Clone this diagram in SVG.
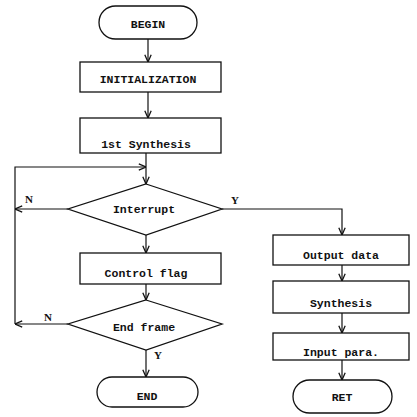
<svg xmlns="http://www.w3.org/2000/svg" width="417" height="417" viewBox="0 0 417 417">
<defs>
<marker id="arr" viewBox="0 0 10 10" refX="10" refY="5" markerWidth="8" markerHeight="8" markerUnits="userSpaceOnUse" orient="auto">
<path d="M1,1 L10,5 L1,9" fill="none" stroke="#111" stroke-width="1.6"/>
</marker>
<style>
.s{fill:#fff;stroke:#111;stroke-width:1.3}
.c{fill:none;stroke:#111;stroke-width:1.2}
.t{font-family:"Liberation Mono",monospace;font-weight:bold;font-size:11.5px;fill:#111;text-anchor:middle}
.l{font-family:"Liberation Serif",serif;font-weight:bold;font-size:11px;fill:#111;text-anchor:middle}
</style>
</defs>
<rect width="417" height="417" fill="#fff"/>
<g id="connectors">
<line class="c" x1="148" y1="39" x2="148" y2="62" marker-end="url(#arr)"/>
<line class="c" x1="148" y1="92" x2="148" y2="118" marker-end="url(#arr)"/>
<line class="c" x1="146" y1="153" x2="146" y2="184" marker-end="url(#arr)"/>
<polyline class="c" points="15,324 15,167 146,167" marker-end="url(#arr)"/>
<line class="c" x1="68" y1="209" x2="15" y2="209" marker-end="url(#arr)"/>
<line class="c" x1="146" y1="235" x2="146" y2="253" marker-end="url(#arr)"/>
<line class="c" x1="146" y1="284" x2="146" y2="300" marker-end="url(#arr)"/>
<line class="c" x1="68" y1="324" x2="15" y2="324" marker-end="url(#arr)"/>
<line class="c" x1="146" y1="350" x2="146" y2="377" marker-end="url(#arr)"/>
<polyline class="c" points="222,209 342,209 342,235" marker-end="url(#arr)"/>
<line class="c" x1="342" y1="265" x2="342" y2="281" marker-end="url(#arr)"/>
<line class="c" x1="342" y1="313" x2="342" y2="333" marker-end="url(#arr)"/>
<line class="c" x1="342" y1="360" x2="342" y2="380" marker-end="url(#arr)"/>
<text class="l" x="29" y="203">N</text>
<text class="l" x="235" y="204">Y</text>
<text class="l" x="48" y="321">N</text>
<text class="l" x="158" y="359">Y</text>
</g>
<g id="begin"><rect class="s" x="99" y="6" width="98" height="33" rx="16.5"/><text class="t" x="148" y="28">BEGIN</text></g>
<g id="init"><rect class="s" x="80" y="62" width="141" height="30"/><text class="t" x="148" y="83">INITIALIZATION</text></g>
<g id="synth1"><rect class="s" x="80" y="118" width="141" height="35"/><text class="t" x="146" y="148">1st Synthesis</text></g>
<g id="interrupt"><polygon class="s" points="146,184 222,209 146,235 68,209"/><text class="t" x="144" y="213">Interrupt</text></g>
<g id="control"><rect class="s" x="80" y="253" width="141" height="31"/><text class="t" x="146" y="277">Control flag</text></g>
<g id="endframe"><polygon class="s" points="146,300 222,324 146,350 68,324"/><text class="t" x="144" y="331">End frame</text></g>
<g id="end"><rect class="s" x="97" y="377" width="101" height="30" rx="15"/><text class="t" x="147" y="400">END</text></g>
<g id="output"><rect class="s" x="273" y="235" width="136" height="30"/><text class="t" x="341" y="259">Output data</text></g>
<g id="synth"><rect class="s" x="273" y="281" width="136" height="32"/><text class="t" x="341" y="307">Synthesis</text></g>
<g id="input"><rect class="s" x="273" y="333" width="136" height="27"/><text class="t" x="341" y="356">Input para.</text></g>
<g id="ret"><rect class="s" x="293" y="380" width="99" height="33" rx="16.5"/><text class="t" x="342" y="401">RET</text></g>
</svg>
